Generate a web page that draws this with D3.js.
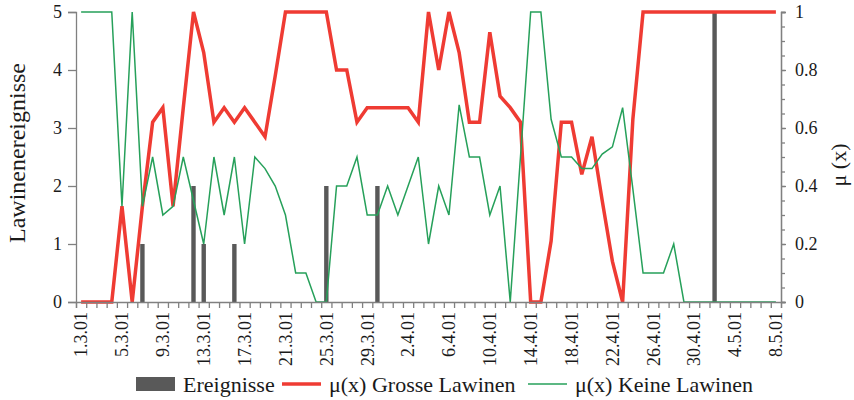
<!DOCTYPE html>
<html>
<head>
<meta charset="utf-8">
<script src="https://cdn.jsdelivr.net/npm/d3@7"></script>
<style>
  body { margin: 0; background: #fff; }
  svg { font-family: "Liberation Serif", "Times New Roman", serif; }
</style>
</head>
<body>
<svg></svg>
<script>
var dates = [
  "1.3.01","2.3.01","3.3.01","4.3.01","5.3.01","6.3.01","7.3.01","8.3.01","9.3.01","10.3.01",
  "11.3.01","12.3.01","13.3.01","14.3.01","15.3.01","16.3.01","17.3.01","18.3.01","19.3.01","20.3.01",
  "21.3.01","22.3.01","23.3.01","24.3.01","25.3.01","26.3.01","27.3.01","28.3.01","29.3.01","30.3.01",
  "31.3.01","1.4.01","2.4.01","3.4.01","4.4.01","5.4.01","6.4.01","7.4.01","8.4.01","9.4.01",
  "10.4.01","11.4.01","12.4.01","13.4.01","14.4.01","15.4.01","16.4.01","17.4.01","18.4.01","19.4.01",
  "20.4.01","21.4.01","22.4.01","23.4.01","24.4.01","25.4.01","26.4.01","27.4.01","28.4.01","29.4.01",
  "30.4.01","1.5.01","2.5.01","3.5.01","4.5.01","5.5.01","6.5.01","7.5.01","8.5.01"
];

var tickDates = ["1.3.01","5.3.01","9.3.01","13.3.01","17.3.01","21.3.01","25.3.01","29.3.01","2.4.01",
  "6.4.01","10.4.01","14.4.01","18.4.01","22.4.01","26.4.01","30.4.01","4.5.01","8.5.01"];

// Lawinenereignisse (linke Achse)
var ereignisse = [
  0,0,0,0,0,0,1,0,0,0,
  0,2,1,0,0,1,0,0,0,0,
  0,0,0,0,2,0,0,0,0,2,
  0,0,0,0,0,0,0,0,0,0,
  0,0,0,0,0,0,0,0,0,0,
  0,0,0,0,0,0,0,0,0,0,
  0,0,5,0,0,0,0,0,0
];

// mu(x) Grosse Lawinen (rechte Achse)
var grosse = [
  0,0,0,0,0.33,0,0.33,0.62,0.67,0.33,
  0.67,1,0.86,0.62,0.67,0.62,0.67,0.62,0.57,0.78,
  1,1,1,1,1,0.8,0.8,0.62,0.67,0.67,
  0.67,0.67,0.67,0.62,1,0.8,1,0.86,0.62,0.62,
  0.93,0.71,0.67,0.62,0,0,0.21,0.62,0.62,0.44,
  0.57,0.35,0.14,0,0.63,1,1,1,1,1,
  1,1,1,1,1,1,1,1,1
];

// mu(x) Keine Lawinen (rechte Achse)
var keine = [
  1,1,1,1,0.33,1,0.33,0.5,0.3,0.33,
  0.5,0.35,0.2,0.5,0.3,0.5,0.2,0.5,0.46,0.4,
  0.3,0.1,0.1,0,0,0.4,0.4,0.5,0.3,0.3,
  0.4,0.3,0.4,0.5,0.2,0.4,0.3,0.68,0.5,0.5,
  0.3,0.4,0,0.5,1,1,0.63,0.5,0.5,0.46,
  0.46,0.51,0.535,0.67,0.39,0.1,0.1,0.1,0.2,0,
  0,0,0,0,0,0,0,0,0
];

var leftTicks = [0, 1, 2, 3, 4, 5];
var rightTicks = [0, 0.2, 0.4, 0.6, 0.8, 1];

var margin = {top: 12, right: 73, bottom: 98, left: 76},
    width = 854 - margin.left - margin.right,
    height = 400 - margin.top - margin.bottom;

var axisColor = "#808080",
    barColor = "#595959",
    redColor = "#ef3b33",
    greenColor = "#26a05a";

var root = d3.select("svg")
    .attr("width", 854)
    .attr("height", 400);

var svg = root.append("g")
    .attr("transform", "translate(" + margin.left + "," + margin.top + ")");

var x = d3.scaleBand()
    .domain(dates)
    .range([0, width])
    .padding(0);

// category boundaries, for the small tick marks
var xEdge = d3.scaleLinear()
    .domain([0, dates.length])
    .range([0, width]);

var yLeft = d3.scaleLinear().domain([0, 5]).range([height, 0]);
var yRight = d3.scaleLinear().domain([0, 1]).range([height, 0]);

function cx(i) { return x(dates[i]) + x.bandwidth() / 2; }

// bars
var barData = ereignisse.map(function(d, i) { return {date: dates[i], value: d}; })
    .filter(function(d) { return d.value > 0; });

svg.selectAll("rect.bar")
    .data(barData)
    .enter()
    .append("rect")
      .attr("class", "bar")
      .attr("x", function(d) { return x(d.date) + x.bandwidth() / 2 - 2.2; })
      .attr("y", function(d) { return yLeft(d.value); })
      .attr("width", 4.4)
      .attr("height", function(d) { return height - yLeft(d.value); })
      .attr("fill", barColor);

var line = d3.line()
    .x(function(d, i) { return cx(i); })
    .y(function(d) { return yRight(d); });

svg.append("path")
    .datum(grosse)
    .attr("fill", "none")
    .attr("stroke", redColor)
    .attr("stroke-width", 3.5)
    .attr("d", line);

svg.append("path")
    .datum(keine)
    .attr("fill", "none")
    .attr("stroke", greenColor)
    .attr("stroke-width", 1.5)
    .attr("d", line);

// left axis
svg.append("g")
    .call(d3.axisLeft(yLeft).tickValues(leftTicks).tickSize(8).tickPadding(6)
      .tickFormat(d3.format("d")));

// right axis: minor then major ticks
svg.append("g")
    .attr("transform", "translate(" + width + ",0)")
    .call(d3.axisRight(yRight).tickValues(d3.range(0, 21).map(function(k) { return k / 20; }))
      .tickSize(4).tickFormat(""));
svg.append("g")
    .attr("transform", "translate(" + width + ",0)")
    .call(d3.axisRight(yRight).tickValues(rightTicks).tickSize(5).tickPadding(9)
      .tickFormat(function(d) { return (d === 0 || d === 1) ? String(d) : d.toFixed(1); }));

// bottom axis: tick marks on category edges, labels on centres
svg.append("g")
    .attr("transform", "translate(0," + height + ")")
    .call(d3.axisBottom(xEdge).tickValues(d3.range(dates.length + 1)).tickSize(6).tickFormat(""));
var gBottom = svg.append("g")
    .attr("transform", "translate(0," + height + ")")
    .call(d3.axisBottom(x).tickValues(tickDates).tickSize(0));
gBottom.select(".domain").remove();
gBottom.selectAll("text")
    .attr("x", -10)
    .attr("y", 0)
    .attr("dy", "0.35em")
    .attr("transform", "rotate(-90)")
    .style("text-anchor", "end");

svg.selectAll(".domain, .tick line")
    .attr("stroke", axisColor)
    .attr("stroke-width", 1.3);
svg.selectAll(".tick text")
    .attr("fill", "#1a1a1a")
    .style("font-family", "'Liberation Serif', serif")
    .style("font-size", "18px");

// axis titles
root.append("text")
    .attr("transform", "translate(17,153)rotate(-90)")
    .attr("dy", "0.35em")
    .style("text-anchor", "middle")
    .style("font-size", "24px")
    .attr("fill", "#1a1a1a")
    .text("Lawinenereignisse");

root.append("text")
    .attr("transform", "translate(838,165)rotate(-90)")
    .attr("dy", "0.35em")
    .style("text-anchor", "middle")
    .style("font-size", "22px")
    .attr("fill", "#1a1a1a")
    .text("μ (x)");

// legend
var legend = root.append("g").attr("transform", "translate(0,384)");
legend.append("rect")
    .attr("x", 136).attr("y", -7).attr("width", 39).attr("height", 14)
    .attr("fill", barColor);
legend.append("text").attr("x", 183).attr("dy", "0.35em").text("Ereignisse");
legend.append("line")
    .attr("x1", 282).attr("x2", 321).attr("y1", 0).attr("y2", 0)
    .attr("stroke", redColor).attr("stroke-width", 3.5);
legend.append("text").attr("x", 329).attr("dy", "0.35em").text("μ(x) Grosse Lawinen");
legend.append("line")
    .attr("x1", 528).attr("x2", 567).attr("y1", 0).attr("y2", 0)
    .attr("stroke", greenColor).attr("stroke-width", 1.5);
legend.append("text").attr("x", 575).attr("dy", "0.35em").text("μ(x) Keine Lawinen");
legend.selectAll("text")
    .style("font-size", "22px")
    .attr("fill", "#1a1a1a");
</script>
</body>
</html>
